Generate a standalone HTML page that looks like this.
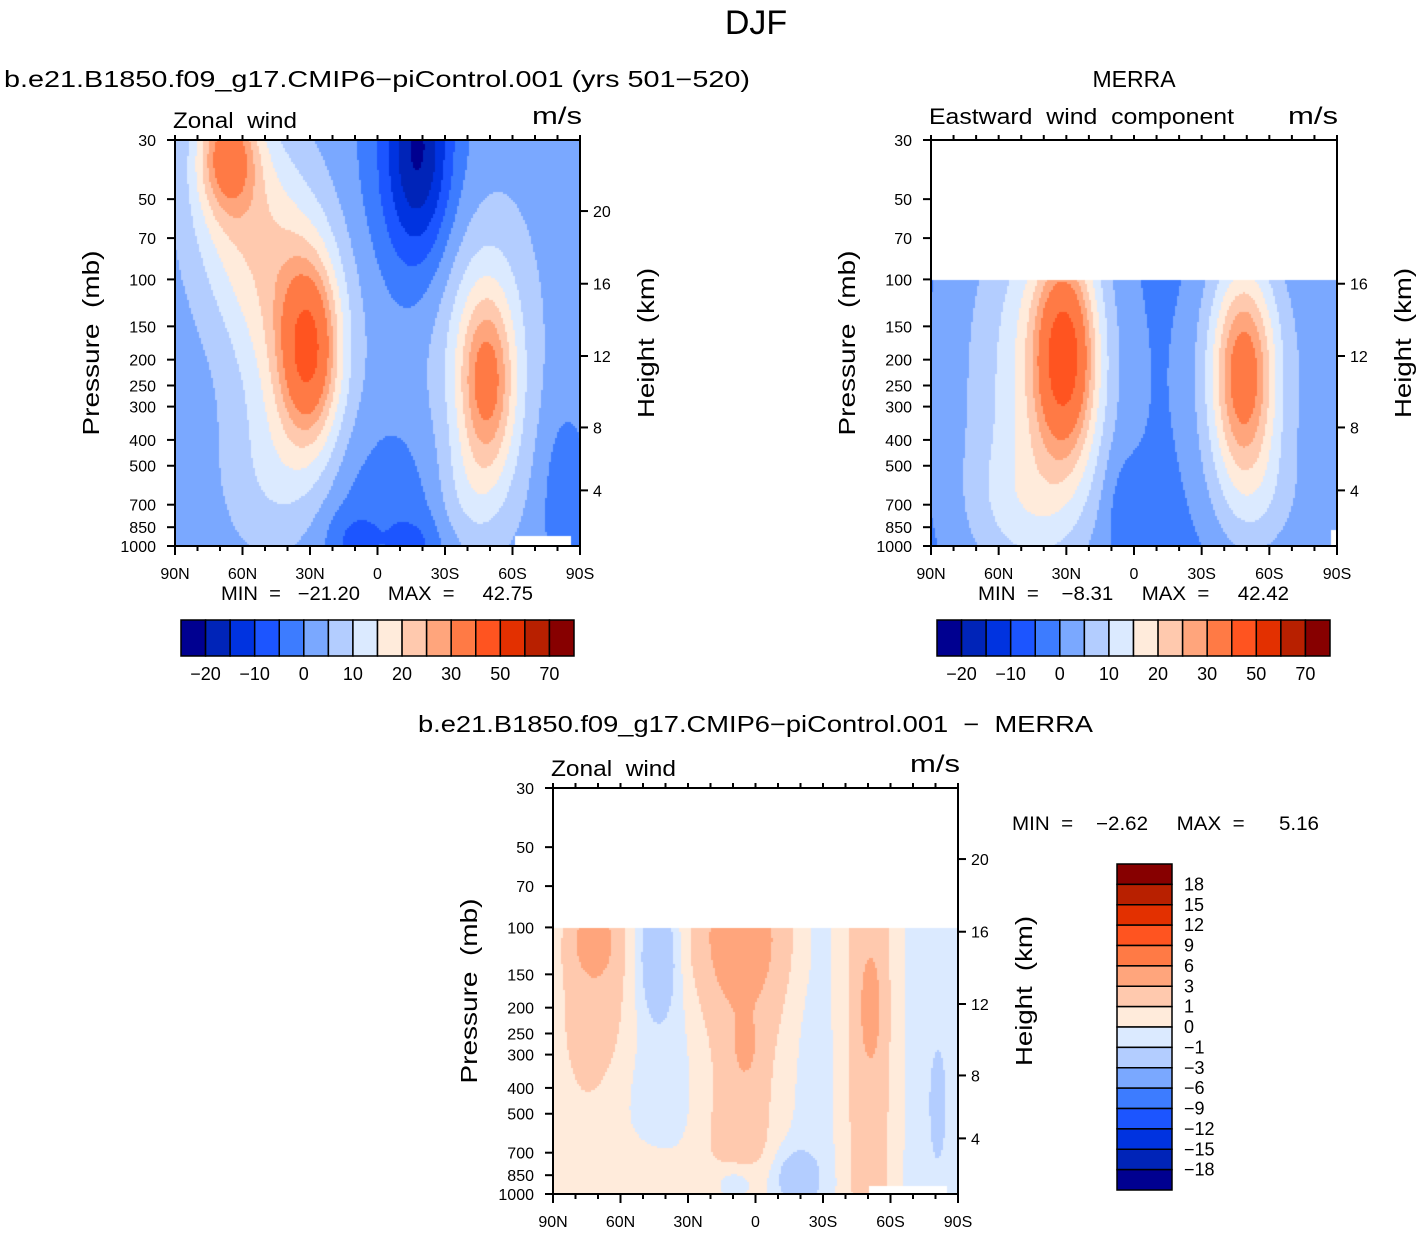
<!DOCTYPE html>
<html><head><meta charset="utf-8"><style>
html,body{margin:0;padding:0;background:#fff;}
#wrap{position:relative;width:1419px;height:1233px;overflow:hidden;font-family:"Liberation Sans",sans-serif;}
canvas{position:absolute;}
svg{position:absolute;left:0;top:0;}
text{font-family:"Liberation Sans",sans-serif;fill:#000;white-space:pre;}
</style></head><body>
<div id="wrap">
<canvas id="c1"></canvas>
<canvas id="c2"></canvas>
<canvas id="c3"></canvas>
<svg id="s" width="1419" height="1233"></svg>
</div>
<script>
// ---- data ----
const levelsFull = [-20,-15,-10,-5,0,5,10,15,20,25,30,40,50,60,70];
const levelsDiff = [-18,-15,-12,-9,-6,-3,-1,0,1,3,6,9,12,15,18];
const fullLabels = ["−20","−10","0","10","20","30","50","70"];
const fullLabelIdx = [0,2,4,6,8,10,12,14];
const diffLabels = ["18","15","12","9","6","3","1","0","−1","−3","−6","−9","−12","−15","−18"];
const palette = ["#000090","#0024b8","#0033e0","#1c55ff","#3d7cff","#7aa8ff","#b3cdff","#dbeaff","#ffebdb","#ffc9ae","#ffa57c","#ff7a45","#ff5420","#e33000","#b82000","#870000"];
const pressureTicks = [30,50,70,100,150,200,250,300,400,500,700,850,1000];
const latTicks = [90,60,30,0,-30,-60,-90];
const latLabels = ["90N","60N","30N","0","30S","60S","90S"];
const heightTicks = [20,16,12,8,4];
const heightFrac = [0.175,0.354,0.532,0.708,0.863];
// field features: [lat-fraction, height-fraction, sx, sy, amplitude]
const modelBase = 2;
const modelFeatures = [
 [0.13,0.03,0.05,0.10,24],[0.15,0.15,0.09,0.18,12],[0.25,0.35,0.10,0.20,9],
 [0.33,0.52,0.05,0.15,28],[0.31,0.55,0.10,0.28,10],[0.25,0.85,0.10,0.15,6],
 [0.77,0.60,0.045,0.15,20],[0.76,0.55,0.09,0.30,13],[0.72,0.88,0.06,0.10,5],
 [0.60,0.00,0.055,0.20,-18],[0.60,0.10,0.12,0.20,-6],
 [0.50,0.95,0.17,0.18,-7],[0.43,0.98,0.04,0.05,-4],[0.60,1.00,0.04,0.05,-4],[0.96,0.88,0.04,0.15,-6]
];
const merraBase = -4;
const merraFeatures = [
 [0.25,0.60,0.17,0.45,13],[0.33,0.53,0.05,0.17,30],[0.31,0.55,0.09,0.25,10],[0.22,0.90,0.10,0.12,6],
 [0.77,0.58,0.05,0.17,22],[0.77,0.58,0.09,0.28,17],[0.82,0.90,0.08,0.12,5],[1.00,0.50,0.08,0.50,6],
 [0.47,0.90,0.035,0.10,-4]
];
const diffBase = -0.5;
const diffFeatures = [
 [0.10,0.37,0.04,0.06,3.2],[0.11,0.48,0.06,0.18,2.2],[0.05,0.80,0.08,0.35,0.9],[0.20,1.00,0.15,0.10,0.9],
 [0.26,0.42,0.03,0.10,-2.5],
 [0.46,0.36,0.08,0.12,3.5],[0.47,0.55,0.075,0.35,2.5],[0.475,0.64,0.02,0.05,2],[0.45,0.90,0.05,0.10,1],
 [0.78,0.60,0.05,0.80,2.4],[0.785,0.54,0.02,0.10,2.5],
 [0.95,0.78,0.012,0.08,-2],[0.45,0.97,0.04,0.04,-2],[0.60,0.96,0.04,0.05,-2]
];
// ---- geometry ----
const panels = [
 {c:"c1",x:175,y:140,w:405,h:406,base:modelBase,feat:modelFeatures,lev:levelsFull,cut:0,notch:[[0.84,0.977,0.976,1]]},
 {c:"c2",x:931,y:140,w:406,h:406,base:merraBase,feat:merraFeatures,lev:levelsFull,cut:0.3447,notch:[[0.985,0.96,1,1]]},
 {c:"c3",x:553,y:788,w:405,h:406,base:diffBase,feat:diffFeatures,lev:levelsDiff,cut:0.3447,notch:[[0.78,0.98,0.975,1]]}
];
function yOfP(p){return Math.log10(p/30)/Math.log10(1000/30);}
function xOfLat(l){return (90-l)/180;}
function fieldAt(pn,X,Y){let v=pn.base;for(const f of pn.feat){const dx=(X-f[0])/f[2],dy=(Y-f[1])/f[3];v+=f[4]*Math.exp(-0.5*(dx*dx+dy*dy));}return v;}
function colorOf(lev,v){let i=0;while(i<lev.length&&v>=lev[i])i++;return palette[i];}
for(const pn of panels){
 const cv=document.getElementById(pn.c);cv.width=pn.w;cv.height=pn.h;cv.style.left=pn.x+"px";cv.style.top=pn.y+"px";
 const ctx=cv.getContext("2d");
 for(let j=0;j<pn.h;j+=2)for(let i=0;i<pn.w;i+=2){
  const X=(i+1)/pn.w,Y=(j+1)/pn.h;
  let col="#fff";
  if(Y>=pn.cut){col=colorOf(pn.lev,fieldAt(pn,X,Y));
   for(const n of pn.notch){if(X>=n[0]&&X<=n[2]&&Y>=n[1])col="#fff";}}
  ctx.fillStyle=col;ctx.fillRect(i,j,2,2);
 }
}
// ---- SVG annotations ----
const S=document.getElementById("s");const NS="http://www.w3.org/2000/svg";
function el(tag,attrs,txt){const e=document.createElementNS(NS,tag);for(const k in attrs)e.setAttribute(k,attrs[k]);if(txt!==undefined)e.textContent=txt;S.appendChild(e);return e;}
function txt(x,y,s,size,anchor,name,extra){const e=el("text",Object.assign({x:x,y:y,"font-size":size,"text-anchor":anchor||"start"},extra||{}),s);
 
 return e;}
txt(756,34,"DJF",34,"middle","figure-title");
function axes(pn,idx){
 const x0=pn.x,y0=pn.y,w=pn.w,h=pn.h;
 const r=el("rect",{x:x0,y:y0,width:w,height:h,fill:"none",stroke:"#000","stroke-width":2});
 
 
 pressureTicks.forEach(p=>{const y=y0+yOfP(p)*h;
  el("line",{x1:x0-8,x2:x0,y1:y,y2:y,stroke:"#000","stroke-width":2});
  txt(x0-19,y+6,String(p),16,"end","pressure-tick-label");});
 for(let l=90;l>=-90;l-=10){const x=x0+xOfLat(l)*w;const major=(l%30===0);
  el("line",{x1:x,x2:x,y1:y0+h,y2:y0+h+(major?9:5),stroke:"#000","stroke-width":2});
  el("line",{x1:x,x2:x,y1:y0,y2:y0-5,stroke:"#000","stroke-width":2});}
 latTicks.forEach((l,k)=>{txt(x0+xOfLat(l)*w,y0+h+33,latLabels[k],16,"middle","latitude-tick-label");});
 heightTicks.forEach((z,k)=>{const Y=heightFrac[k];if(Y<pn.cut&&idx===2)return;const y=y0+Y*h;
  el("line",{x1:x0+w,x2:x0+w+8,y1:y,y2:y,stroke:"#000","stroke-width":2});
  txt(x0+w+13,y+6,String(z),16,"start","height-tick-label");});
 const py=y0+h*0.5;
 txt(0,0,"Pressure  (mb)",23,"middle","y-axis-title",{transform:`translate(${x0-76},${py+0}) rotate(-90)`,textLength:185,lengthAdjust:"spacingAndGlyphs"});
 txt(0,0,"Height  (km)",23,"middle","y2-axis-title",{transform:`translate(${x0+w+74},${py}) rotate(-90)`,textLength:150,lengthAdjust:"spacingAndGlyphs"});
}
panels.forEach((pn,i)=>axes(pn,i+1));
// titles
txt(4,87,"b.e21.B1850.f09_g17.CMIP6−piControl.001 (yrs 501−520)",23,"start","model-panel-title",{textLength:746,lengthAdjust:"spacingAndGlyphs"});
txt(1134,87,"MERRA",23,"middle","merra-panel-title");
txt(173,128,"Zonal  wind",22,"start","variable-label",{textLength:124,lengthAdjust:"spacingAndGlyphs"});
txt(582,124,"m/s",24,"end","units-label",{textLength:50,lengthAdjust:"spacingAndGlyphs"});
txt(929,124,"Eastward  wind  component",22,"start","variable-label",{textLength:305,lengthAdjust:"spacingAndGlyphs"});
txt(1338,124,"m/s",24,"end","units-label",{textLength:50,lengthAdjust:"spacingAndGlyphs"});
txt(221,600,"MIN  =   −21.20     MAX  =     42.75",19,"start","model-min-max",{textLength:312,lengthAdjust:"spacingAndGlyphs"});
txt(978,600,"MIN  =    −8.31     MAX  =     42.42",19,"start","merra-min-max",{textLength:311,lengthAdjust:"spacingAndGlyphs"});
txt(418,732,"b.e21.B1850.f09_g17.CMIP6−piControl.001  −  MERRA",23,"start","difference-panel-title",{textLength:675,lengthAdjust:"spacingAndGlyphs"});
txt(551,776,"Zonal  wind",22,"start","variable-label",{textLength:125,lengthAdjust:"spacingAndGlyphs"});
txt(960,772,"m/s",24,"end","units-label",{textLength:50,lengthAdjust:"spacingAndGlyphs"});
txt(1012,830,"MIN  =    −2.62     MAX  =      5.16",19,"start","difference-min-max",{textLength:307,lengthAdjust:"spacingAndGlyphs"});
// horizontal colorbars
function hbar(x0,name){const w=393/16;
 palette.forEach((c,i)=>{const r=el("rect",{x:x0+i*w,y:620,width:w,height:36,fill:c,stroke:"#000","stroke-width":1.5});
  
  });
 fullLabelIdx.forEach((k,j)=>txt(x0+(k+1)*w,680,fullLabels[j],18,"middle",name+"-label"));}
hbar(181,"model-colorbar");hbar(937,"merra-colorbar");
// vertical colorbar
const vh=326/16;
for(let i=0;i<16;i++){const r=el("rect",{x:1117,y:864+i*vh,width:55,height:vh,fill:palette[15-i],stroke:"#000","stroke-width":1.5});
 
 }
diffLabels.forEach((s,k)=>txt(1184,864+(k+1)*vh+6,s,18,"start","difference-colorbar-label"));
</script>
</body></html>
